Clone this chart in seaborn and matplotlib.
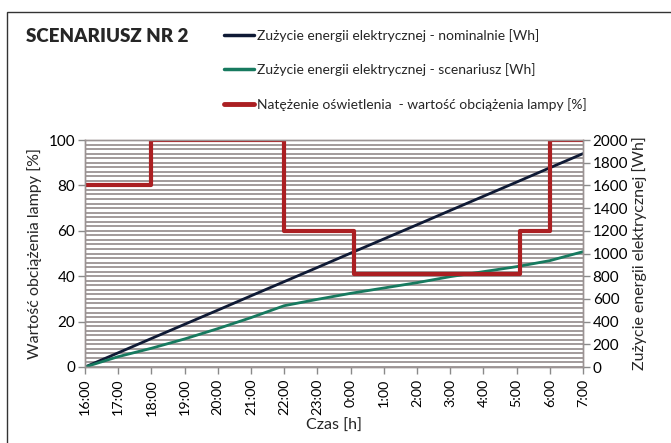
import numpy as np
import pandas as pd
import matplotlib
matplotlib.use("Agg")
import matplotlib.pyplot as plt
import seaborn as sns
from matplotlib.patches import Rectangle
from matplotlib.lines import Line2D

sns.set_theme(style="white")
plt.rcParams['font.family'] = ['Lato', 'DejaVu Sans']

# ---- data ----
hour_labels = ["16:00", "17:00", "18:00", "19:00", "20:00", "21:00", "22:00", "23:00",
               "0:00", "1:00", "2:00", "3:00", "4:00", "5:00", "6:00", "7:00"]
hours = list(range(16))  # hours since 16:00
energy_nominal = [0, 125, 251, 376, 501, 627, 752, 877, 1003, 1128, 1253, 1379, 1504, 1629, 1755, 1880]
energy_scenario = [0, 91, 165, 247, 338, 435, 540, 596, 649, 696, 743, 796, 840, 884, 937, 1016]
lamp_times = [0, 2, 6, 8.1, 13.1, 14, 15]
lamp_load = [80, 100, 60, 41, 60, 100, 100]

lbl_nom = "Zużycie energii elektrycznej - nominalnie [Wh]"
lbl_scn = "Zużycie energii elektrycznej - scenariusz [Wh]"
lbl_lamp = "Natężenie oświetlenia  - wartość obciążenia lampy [%]"

c_nom = "#0f1a35"
c_scn = "#177a5f"
c_lamp = "#ab1f22"

df_e = pd.DataFrame({"h": hours, "nom": energy_nominal, "scn": energy_scenario})
df_l = pd.DataFrame({"h": lamp_times, "load": lamp_load})

fig = plt.figure(figsize=(6.71, 4.43), dpi=100)
ax1 = fig.add_axes([85/671, 1-367/443, (583-85)/671, (367-140)/443])
ax2 = ax1.twinx()

ax2.set_zorder(1)
ax1.set_zorder(2)
ax1.patch.set_visible(False)
ax2.patch.set_visible(True)
ax2.patch.set_facecolor("white")

sns.lineplot(data=df_e, x="h", y="nom", ax=ax2, color=c_nom, lw=2.0)
sns.lineplot(data=df_e, x="h", y="scn", ax=ax2, color=c_scn, lw=2.0)
sns.lineplot(data=df_l, x="h", y="load", ax=ax1, color=c_lamp, lw=3.0,
             drawstyle="steps-post")

ax1.set_xlim(0, 15)
ax1.set_ylim(0, 100)
ax2.set_ylim(0, 2000)

ax2.set_yticks(np.arange(0, 2001, 200))
ax2.set_yticks(np.arange(0, 2001, 40), minor=True)
ax2.grid(True, which="both", axis="y", color="#9b9393", lw=1.3)
ax2.grid(False, axis="x")
ax1.grid(False)

ax1.set_yticks(np.arange(0, 101, 20))
ax1.set_xticks(hours)
ax1.set_xticklabels(hour_labels, rotation=90)

for ax in (ax1, ax2):
    for s in ax.spines.values():
        s.set_color("#9b9393")
        s.set_linewidth(1.0)
    ax.tick_params(which="major", direction="out", length=5, width=1, color="#8a8a8a",
                   labelsize=11, labelcolor="black")
    ax.tick_params(which="minor", length=0)
ax1.tick_params(axis="x", bottom=True, pad=3.6, labelsize=10.3)
ax1.tick_params(axis="y", left=True, pad=2)
ax2.tick_params(axis="y", right=True, pad=2)

ax1.set_xlabel("Czas [h]", fontsize=11.5, labelpad=2)
ax1.set_ylabel("Wartość obciążenia lampy [%]", fontsize=11.5, labelpad=5)
ax2.set_ylabel("Zużycie energii elektrycznej [Wh]", fontsize=11.5, labelpad=3)

fig.text(26/671, 1-37/443, "SCENARIUSZ NR 2", fontsize=13.5, fontweight="heavy",
         va="center", ha="left")

handles = [Line2D([], [], color=c_nom, lw=2.5),
           Line2D([], [], color=c_scn, lw=2.5),
           Line2D([], [], color=c_lamp, lw=3.5)]
fig.legend(handles, [lbl_nom, lbl_scn, lbl_lamp], loc="upper left",
           bbox_to_anchor=(218/671, 1-23/443), frameon=False, fontsize=10,
           handlelength=2.2, handletextpad=0.2, labelspacing=1.55, borderaxespad=0)

fig.patches.append(Rectangle((7/671, -0.1), 1.2, 1.1 - 12/443,
                             transform=fig.transFigure, fill=False,
                             edgecolor="#333333", lw=1.0))

fig.savefig("out.png", dpi=100)
